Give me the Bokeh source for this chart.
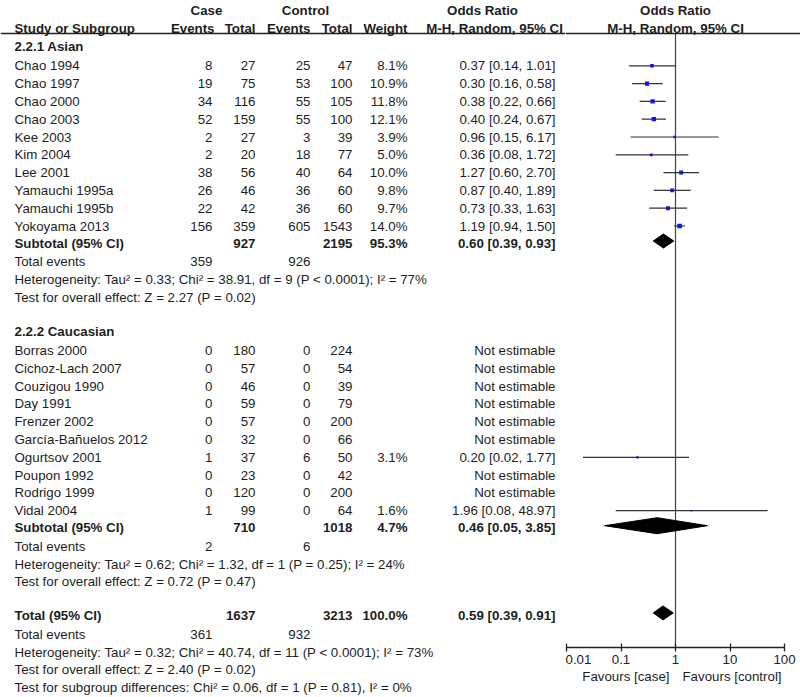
import math
from bokeh.plotting import figure
from bokeh.models import (ColumnDataSource, Range1d, LogScale, FixedTicker,
                          CustomJSTickFormatter, Span)
from bokeh.layouts import row, column
from bokeh.embed import file_html
from bokeh.resources import INLINE
from bokeh.core.properties import value

# ---------------- data ----------------
asian_study = ["Chao 1994", "Chao 1997", "Chao 2000", "Chao 2003", "Kee 2003",
               "Kim 2004", "Lee 2001", "Yamauchi 1995a", "Yamauchi 1995b", "Yokoyama 2013"]
asian_case_ev = [8, 19, 34, 52, 2, 2, 38, 26, 22, 156]
asian_case_tot = [27, 75, 116, 159, 27, 20, 56, 46, 42, 359]
asian_ctrl_ev = [25, 53, 55, 55, 3, 18, 40, 36, 36, 605]
asian_ctrl_tot = [47, 100, 105, 100, 39, 77, 64, 60, 60, 1543]
asian_weight = [8.1, 10.9, 11.8, 12.1, 3.9, 5.0, 10.0, 9.8, 9.7, 14.0]
asian_or = [0.37, 0.30, 0.38, 0.40, 0.96, 0.36, 1.27, 0.87, 0.73, 1.19]
asian_lo = [0.14, 0.16, 0.22, 0.24, 0.15, 0.08, 0.60, 0.40, 0.33, 0.94]
asian_hi = [1.01, 0.58, 0.66, 0.67, 6.17, 1.72, 2.70, 1.89, 1.63, 1.50]

cauc_study = ["Borras 2000", "Cichoz-Lach 2007", "Couzigou 1990", "Day 1991", "Frenzer 2002",
              "García-Bañuelos 2012", "Ogurtsov 2001", "Poupon 1992", "Rodrigo 1999", "Vidal 2004"]
cauc_case_ev = [0, 0, 0, 0, 0, 0, 1, 0, 0, 1]
cauc_case_tot = [180, 57, 46, 59, 57, 32, 37, 23, 120, 99]
cauc_ctrl_ev = [0, 0, 0, 0, 0, 0, 6, 0, 0, 0]
cauc_ctrl_tot = [224, 54, 39, 79, 200, 66, 50, 42, 200, 64]
cauc_weight = [None, None, None, None, None, None, 3.1, None, None, 1.6]
cauc_or = [None, None, None, None, None, None, 0.20, None, None, 1.96]
cauc_lo = [None, None, None, None, None, None, 0.02, None, None, 0.08]
cauc_hi = [None, None, None, None, None, None, 1.77, None, None, 48.97]

group_title = ["2.2.1 Asian", "2.2.2 Caucasian"]
sub_case_tot = [927, 710]
sub_ctrl_tot = [2195, 1018]
sub_weight = [95.3, 4.7]
sub_or = [0.60, 0.46]
sub_lo = [0.39, 0.05]
sub_hi = [0.93, 3.85]
sub_case_ev = [359, 2]
sub_ctrl_ev = [926, 6]
sub_het = ["Heterogeneity: Tau² = 0.33; Chi² = 38.91, df = 9 (P < 0.0001); I² = 77%",
           "Heterogeneity: Tau² = 0.62; Chi² = 1.32, df = 1 (P = 0.25); I² = 24%"]
sub_test = ["Test for overall effect: Z = 2.27 (P = 0.02)",
            "Test for overall effect: Z = 0.72 (P = 0.47)"]

tot_case_tot, tot_ctrl_tot, tot_weight = 1637, 3213, 100.0
tot_or, tot_lo, tot_hi = 0.59, 0.39, 0.91
tot_case_ev, tot_ctrl_ev = 361, 932
tot_lines = ["Heterogeneity: Tau² = 0.32; Chi² = 40.74, df = 11 (P < 0.0001); I² = 73%",
             "Test for overall effect: Z = 2.40 (P = 0.02)",
             "Test for subgroup differences: Chi² = 0.06, df = 1 (P = 0.81), I² = 0%"]

tick_vals = [0.01, 0.1, 1, 10, 100]
favour_left, favour_right = "Favours [case]", "Favours [control]"

# ---------------- layout constants (pixel coordinates) ----------------
FONT = value("Liberation Sans")
FS = "13.3px"
TXT = "#1e1e1e"
IMG_BOT = 697
X0, XSPLIT, X1 = 0, 565, 800
X_ONE, DECADE = 675, 54.5
AX_Y, HEAD_Y = 647, 33
H1, H2 = 10, 27.8
C_STUDY, C_CEV, C_CTOT, C_KEV, C_KTOT, C_W, C_OR = 14, 212, 255, 310, 352, 407, 555

left_items = []   # (x, y, text, align, style)
squares = dict(x=[], y=[], size=[])
whisk = dict(x0=[], x1=[], y=[])
diam = dict(xs=[], ys=[])


def fmt_or(o, l, h):
    return f"{o:.2f} [{l:.2f}, {h:.2f}]"


def add_diamond(o, l, h, y, half):
    diam["xs"].append([l, o, h, o])
    diam["ys"].append([y, y - half, y, y + half])


# header
left_items += [(206, H1, "Case", "center", "bold"), (305, H1, "Control", "center", "bold"),
               (482, H1, "Odds Ratio", "center", "bold"),
               (C_STUDY, H2, "Study or Subgroup", "left", "bold"),
               (214, H2, "Events", "right", "bold"), (C_CTOT, H2, "Total", "right", "bold"),
               (C_KEV, H2, "Events", "right", "bold"), (C_KTOT, H2, "Total", "right", "bold"),
               (C_W, H2, "Weight", "right", "bold"),
               (494, H2, "M-H, Random, 95% CI", "center", "bold")]

groups = [
    (asian_study, asian_case_ev, asian_case_tot, asian_ctrl_ev, asian_ctrl_tot,
     asian_weight, asian_or, asian_lo, asian_hi),
    (cauc_study, cauc_case_ev, cauc_case_tot, cauc_ctrl_ev, cauc_ctrl_tot,
     cauc_weight, cauc_or, cauc_lo, cauc_hi),
]
diamond_half = [7, 8]

y = 46
for g, (names, cev, ctot, kev, ktot, w, o, lo, hi) in enumerate(groups):
    left_items.append((C_STUDY, y, group_title[g], "left", "bold"))
    y += 19.3
    for i in range(len(names)):
        left_items += [(C_STUDY, y, names[i], "left", "normal"),
                       (C_CEV, y, str(cev[i]), "right", "normal"),
                       (C_CTOT, y, str(ctot[i]), "right", "normal"),
                       (C_KEV, y, str(kev[i]), "right", "normal"),
                       (C_KTOT, y, str(ktot[i]), "right", "normal")]
        if o[i] is None:
            left_items.append((C_OR, y, "Not estimable", "right", "normal"))
        else:
            left_items += [(C_W, y, f"{w[i]:.1f}%", "right", "normal"),
                           (C_OR, y, fmt_or(o[i], lo[i], hi[i]), "right", "normal")]
            squares["x"].append(o[i]); squares["y"].append(y)
            squares["size"].append(1.25 * math.sqrt(w[i]))
            whisk["x0"].append(lo[i]); whisk["x1"].append(hi[i]); whisk["y"].append(y)
        y += 17.8
    y -= 0.8
    left_items += [(C_STUDY, y, "Subtotal (95% CI)", "left", "bold"),
                   (C_CTOT, y, str(sub_case_tot[g]), "right", "bold"),
                   (C_KTOT, y, str(sub_ctrl_tot[g]), "right", "bold"),
                   (C_W, y, f"{sub_weight[g]:.1f}%", "right", "bold"),
                   (C_OR, y, fmt_or(sub_or[g], sub_lo[g], sub_hi[g]), "right", "bold")]
    add_diamond(sub_or[g], sub_lo[g], sub_hi[g], y - 2, diamond_half[g])
    y += 18.8
    left_items += [(C_STUDY, y, "Total events", "left", "normal"),
                   (C_CEV, y, str(sub_case_ev[g]), "right", "normal"),
                   (C_KEV, y, str(sub_ctrl_ev[g]), "right", "normal")]
    y += 17.6
    left_items.append((C_STUDY, y, sub_het[g], "left", "normal"))
    y += 17.6
    left_items.append((C_STUDY, y, sub_test[g], "left", "normal"))
    y += 34.2

# overall
left_items += [(C_STUDY, y, "Total (95% CI)", "left", "bold"),
               (C_CTOT, y, str(tot_case_tot), "right", "bold"),
               (C_KTOT, y, str(tot_ctrl_tot), "right", "bold"),
               (C_W, y, f"{tot_weight:.1f}%", "right", "bold"),
               (C_OR, y, fmt_or(tot_or, tot_lo, tot_hi), "right", "bold")]
add_diamond(tot_or, tot_lo, tot_hi, y - 3, 7)
y += 18.8
left_items += [(C_STUDY, y, "Total events", "left", "normal"),
               (C_CEV, y, str(tot_case_ev), "right", "normal"),
               (C_KEV, y, str(tot_ctrl_ev), "right", "normal")]
for line in tot_lines:
    y += 17.6
    left_items.append((C_STUDY, y, line, "left", "normal"))


def add_texts(p, items, **extra):
    grp = {}
    for x, yy, t, al, st in items:
        grp.setdefault((al, st), []).append((x, yy, t))
    for (al, st), lst in grp.items():
        src = ColumnDataSource(dict(x=[a[0] for a in lst], y=[a[1] for a in lst],
                                    text=[a[2] for a in lst]))
        p.text(x="x", y="y", text="text", source=src, text_align=al, text_baseline="middle",
               text_font=FONT, text_font_size=FS, text_font_style=st, text_color=TXT, **extra)


def base_fig(**kw):
    p = figure(output_backend="svg", toolbar_location=None, min_border=0,
               min_border_left=0, min_border_right=0, min_border_top=0, min_border_bottom=0,
               outline_line_color=None, background_fill_color="white",
               border_fill_color="white", **kw)
    p.xgrid.visible = False
    p.ygrid.visible = False
    return p


# ---------------- left table figure ----------------
pl = base_fig(frame_width=XSPLIT - X0, frame_height=IMG_BOT,
              x_range=Range1d(X0, XSPLIT), y_range=Range1d(IMG_BOT, 0),
              x_axis_type=None, y_axis_type=None)
pl.add_layout(Span(location=HEAD_Y, dimension="width", line_color="#222", line_width=1.5))
add_texts(pl, left_items)

# ---------------- right forest figure ----------------
xr_start = 10 ** ((XSPLIT - X_ONE) / DECADE)
xr_end = 10 ** ((X1 - X_ONE) / DECADE)
pr = base_fig(frame_width=X1 - XSPLIT, frame_height=AX_Y,
              x_range=Range1d(xr_start, xr_end), y_range=Range1d(AX_Y, 0),
              x_axis_type="log", y_axis_type=None)
pr.add_layout(Span(location=HEAD_Y, dimension="width", line_color="#222", line_width=1.5))
pr.segment(x0=[1], x1=[1], y0=[HEAD_Y], y1=[AX_Y], line_color="#444", line_width=1.2)
pr.segment(x0="x0", x1="x1", y0="y", y1="y", source=ColumnDataSource(whisk),
           line_color="#333", line_width=1.2)
pr.scatter(x="x", y="y", size="size", marker="square", source=ColumnDataSource(squares),
           fill_color="#1414e6", line_color=None)
pr.patches(xs="xs", ys="ys", source=ColumnDataSource(diam), fill_color="black",
           line_color="black", line_width=1)
add_texts(pr, [(1, H1, "Odds Ratio", "center", "bold"),
               (1, H2, "M-H, Random, 95% CI", "center", "bold")])
ax = pr.xaxis[0]
ax.ticker = FixedTicker(ticks=tick_vals)
ax.formatter = CustomJSTickFormatter(code="return tick.toString();")
ax.bounds = (tick_vals[0], tick_vals[-1])
ax.axis_line_color = "#222"
ax.axis_line_width = 1.3
ax.major_tick_line_color = "#222"
ax.major_tick_line_width = 1.3
ax.major_tick_in = 4
ax.major_tick_out = 4
ax.minor_tick_line_color = None
ax.major_label_standoff = 3
ax.major_label_text_font = "Liberation Sans"
ax.major_label_text_font_size = FS
ax.major_label_text_color = TXT
ax.major_label_text_font_style = "normal"

# ---------------- favours labels ----------------
fh2 = 30
pf = base_fig(frame_width=X1 - XSPLIT, frame_height=fh2,
              x_range=pr.x_range, y_range=Range1d(IMG_BOT, IMG_BOT - fh2),
              x_axis_type=None, y_axis_type=None)
pf.x_scale = LogScale()
add_texts(pf, [(1, 677, favour_left, "right", "normal")], x_offset=-6)
add_texts(pf, [(1, 677, favour_right, "left", "normal")], x_offset=7)

layout = row(pl, column(pr, pf))
open("out.html", "w").write(file_html(layout, INLINE))
